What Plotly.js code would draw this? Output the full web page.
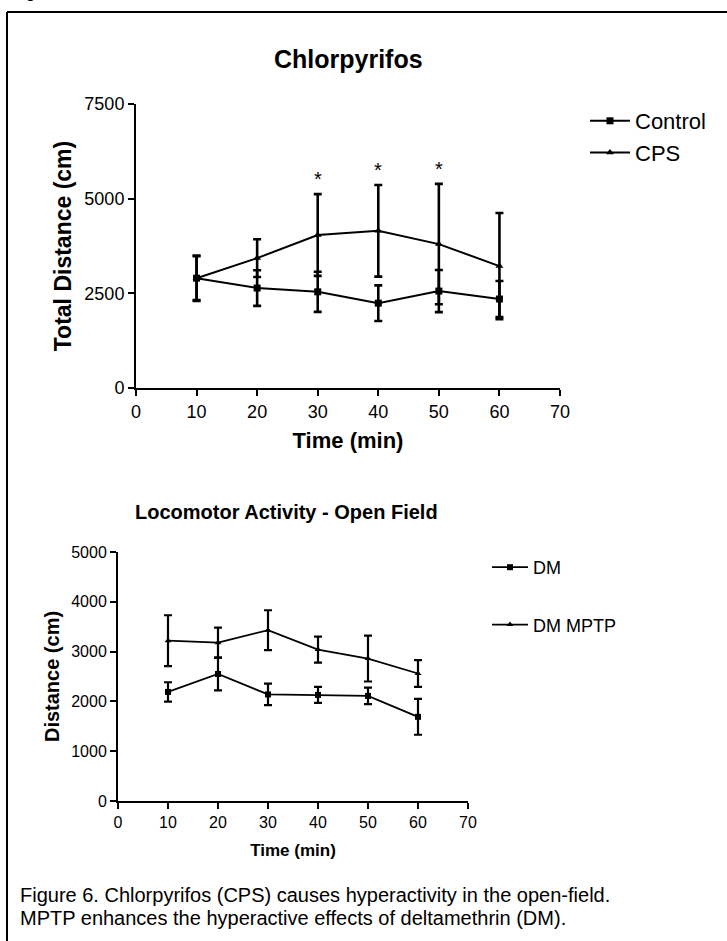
<!DOCTYPE html>
<html>
<head>
<meta charset="utf-8">
<script src="https://cdn.plot.ly/plotly-3.0.1.min.js"></script>
<style>html,body{margin:0;padding:0;background:#fff;} #chart{width:727px;height:941px;}</style>
</head>
<body>
<div id="chart"></div>
<script>
// ---- Data ----
const time = [10, 20, 30, 40, 50, 60];
const xTicks = [0, 10, 20, 30, 40, 50, 60, 70];

// Chlorpyrifos panel
const controlMean = [2900, 2640, 2540, 2240, 2560, 2350];
const controlErr  = [580, 470, 530, 470, 555, 475];
const cpsMean     = [2900, 3430, 4040, 4150, 3800, 3220];
const cpsErr      = [600, 500, 1080, 1210, 1590, 1400];
const sigTimes    = [30, 40, 50];
const topYTicks   = [0, 2500, 5000, 7500];

// Locomotor Activity panel
const dmMean      = [2190, 2550, 2140, 2130, 2110, 1690];
const dmErr       = [195, 330, 215, 160, 165, 360];
const dmMptpMean  = [3220, 3180, 3430, 3040, 2860, 2560];
const dmMptpErr   = [510, 300, 400, 260, 460, 270];
const botYTicks   = [0, 1000, 2000, 3000, 4000, 5000];

const labels = {
  topTitle: 'Chlorpyrifos',
  botTitle: 'Locomotor Activity - Open Field',
  topY: 'Total Distance (cm)',
  botY: 'Distance (cm)',
  x: 'Time (min)',
  caption1: 'Figure 6. Chlorpyrifos (CPS) causes hyperactivity in the open-field.',
  caption2: 'MPTP enhances the hyperactive effects of deltamethrin (DM).'
};

// ---- Layout helpers ----
const W = 727, H = 941;
const px = v => v / W;
const py = v => 1 - v / H;
const FONT = 'Liberation Sans, Arial, Helvetica, sans-serif';

function series(x, y, err, name, symbol, xa, ya, legend, group, lw, ms, et) {
  return {
    type: 'scatter', mode: 'lines+markers', x: x, y: y, name: name,
    xaxis: xa, yaxis: ya, legend: legend, legendgroup: group,
    line: {color: '#000', width: lw},
    marker: {color: '#000', symbol: symbol, size: ms},
    error_y: {type: 'data', array: err, visible: true, color: '#000', thickness: et, width: 4},
    cliponaxis: false
  };
}

const traces = [
  series(time, controlMean, controlErr, 'Control', 'square', 'x', 'y', 'legend', 'a', 2, 7, 2.6),
  series(time, cpsMean, cpsErr, 'CPS', 'triangle-up', 'x', 'y', 'legend', 'b', 2, 7, 2.6),
  series(time, dmMean, dmErr, 'DM', 'square', 'x2', 'y2', 'legend2', 'c', 1.8, 6, 2.2),
  series(time, dmMptpMean, dmMptpErr, 'DM MPTP', 'triangle-up', 'x2', 'y2', 'legend2', 'd', 1.8, 6, 2.2)
];

function axis(extra) {
  return Object.assign({
    showline: true, linecolor: '#000', linewidth: 2,
    ticks: 'outside', ticklen: 6, tickwidth: 2, tickcolor: '#000',
    showgrid: false, zeroline: false, fixedrange: true, automargin: false
  }, extra);
}

function textAnn(text, x, y, size, anchor) {
  return {text: text, xref: 'paper', yref: 'paper', x: px(x), y: py(y), xanchor: anchor || 'center',
    yanchor: 'middle', showarrow: false, font: {family: FONT, size: size, color: '#000'}};
}

const annotations = [
  textAnn('<b>' + labels.topTitle + '</b>', 348, 59, 25),
  textAnn('<b>' + labels.botTitle + '</b>', 286, 512, 20),
  textAnn(labels.caption1, 18, 895, 20, 'left'),
  textAnn(labels.caption2, 18, 918, 20, 'left'),
  {text: 'g', xref: 'paper', yref: 'paper', x: px(24), y: py(3), xanchor: 'left', yanchor: 'bottom',
   showarrow: false, font: {family: FONT, size: 16, color: '#000'}}
];
sigTimes.forEach(t => {
  const i = time.indexOf(t);
  annotations.push({text: '*', x: t, y: cpsMean[i] + cpsErr[i], xref: 'x', yref: 'y',
    xanchor: 'center', yanchor: 'bottom', yshift: 2, showarrow: false,
    font: {family: FONT, size: 20, color: '#000'}});
});

const layout = {
  width: W, height: H,
  margin: {l: 0, r: 0, t: 0, b: 0},
  paper_bgcolor: '#fff', plot_bgcolor: 'rgba(0,0,0,0)',
  font: {family: FONT, color: '#000'},
  xaxis: axis({domain: [px(136), px(560)], range: [0, 70], tickvals: xTicks, anchor: 'y',
    tickfont: {size: 18},
    title: {text: '<b>' + labels.x + '</b>', font: {size: 22}, standoff: 12}}),
  yaxis: axis({domain: [py(388), py(104)], range: [0, 7500], tickvals: topYTicks, anchor: 'x',
    tickfont: {size: 18},
    title: {text: '<b>' + labels.topY + '</b>', font: {size: 23}, standoff: 6}}),
  xaxis2: axis({domain: [px(118), px(468)], range: [0, 70], tickvals: xTicks, anchor: 'y2',
    tickfont: {size: 16},
    title: {text: '<b>' + labels.x + '</b>', font: {size: 17}, standoff: 14}}),
  yaxis2: axis({domain: [py(801), py(552)], range: [0, 5000], tickvals: botYTicks, anchor: 'x2',
    tickfont: {size: 16},
    title: {text: '<b>' + labels.botY + '</b>', font: {size: 20}, standoff: 6}}),
  legend: {x: px(585), y: py(100), xanchor: 'left', yanchor: 'top', bgcolor: 'rgba(0,0,0,0)',
    font: {size: 22, color: '#000'}, tracegroupgap: 0, itemwidth: 40},
  legend2: {x: px(487), y: py(549), xanchor: 'left', yanchor: 'top', bgcolor: 'rgba(0,0,0,0)',
    font: {size: 18, color: '#000'}, tracegroupgap: 31, itemwidth: 36},
  showlegend: true,
  annotations: annotations,
  shapes: [
    {type: 'line', xref: 'paper', yref: 'paper', x0: px(7), x1: px(7), y0: py(12), y1: 0, line: {color: '#000', width: 2}},
    {type: 'line', xref: 'paper', yref: 'paper', x0: px(7), x1: 1, y0: py(12), y1: py(12), line: {color: '#000', width: 2}}
  ]
};

Plotly.newPlot('chart', traces, layout, {displayModeBar: false, staticPlot: true});
</script>
</body>
</html>
